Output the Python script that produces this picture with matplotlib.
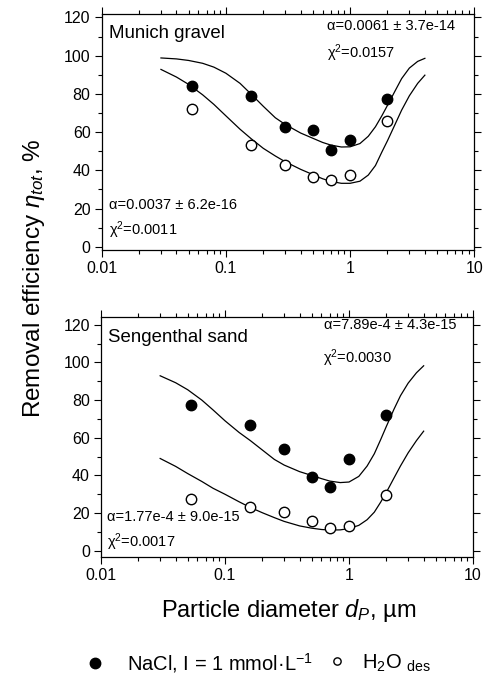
import numpy as np
import matplotlib
matplotlib.use("Agg")
import matplotlib.pyplot as plt
from matplotlib.ticker import MultipleLocator, LogLocator, NullFormatter, FixedLocator, FixedFormatter

plt.rcParams["font.family"] = ["Liberation Sans", "DejaVu Sans"]
plt.rcParams["mathtext.fontset"] = "custom"
plt.rcParams["mathtext.rm"] = "Liberation Sans"
plt.rcParams["mathtext.it"] = "Liberation Sans:italic"
plt.rcParams["mathtext.bf"] = "Liberation Sans:bold"

# measured particle diameters (um)
dp = [0.053, 0.16, 0.3, 0.5, 0.7, 1.0, 2.0]

# Munich gravel
munich_nacl = [84.0, 78.7, 62.5, 61.0, 50.8, 55.8, 77.3]
munich_h2o = [72.0, 53.0, 43.0, 36.5, 35.0, 37.5, 65.6]

# Sengenthal sand
seng_nacl = [77.5, 66.8, 54.1, 39.3, 34.0, 48.7, 72.1]
seng_h2o = [27.3, 23.4, 20.7, 16.0, 11.9, 13.1, 29.6]

# fitted model curves
fit_dp = [0.03, 0.04, 0.05, 0.065, 0.08, 0.1, 0.13, 0.16, 0.2, 0.25, 0.3, 0.4, 0.5,
          0.6, 0.7, 0.85, 1.0, 1.2, 1.4, 1.6, 1.8, 2.0, 2.3, 2.6, 3.0, 3.5, 4.0]
munich_nacl_fit = [98.8, 98.3, 97.5, 96.0, 94.0, 90.8, 85.5, 79.8, 73.5, 67.5, 64.0, 59.5, 56.8,
                   54.6, 53.2, 52.2, 52.3, 54.0, 57.8, 62.8, 68.5, 74.0, 81.5, 88.0, 93.5, 97.0, 98.6]
munich_h2o_fit = [92.8, 88.8, 85.0, 79.5, 74.5, 68.5, 61.5, 56.5, 51.5, 47.5, 44.5, 40.5, 37.8,
                  35.6, 34.2, 33.2, 33.2, 34.3, 37.5, 42.5, 49.5, 55.5, 64.0, 71.5, 79.0, 85.5, 89.8]
seng_nacl_fit = [92.9, 89.2, 85.5, 80.0, 74.8, 69.0, 62.8, 58.5, 53.5, 48.5, 45.5, 42.0, 40.0,
                 38.3, 37.0, 36.2, 36.5, 39.5, 45.0, 51.5, 59.0, 66.0, 75.0, 82.3, 89.0, 94.5, 98.2]
seng_h2o_fit = [49.0, 44.8, 41.0, 36.8, 33.2, 30.0, 26.0, 23.0, 20.2, 17.6, 15.6, 13.2, 12.0,
                11.3, 11.0, 11.1, 11.8, 13.5, 16.5, 20.5, 25.8, 31.0, 38.5, 45.0, 52.0, 58.5, 63.5]

W, H = 484, 675
fig = plt.figure(figsize=(W / 100, H / 100), dpi=100)

ax1 = fig.add_axes([101.7 / W, 1 - 250 / H, 372.6 / W, 236 / H])
ax2 = fig.add_axes([101 / W, 1 - 557 / H, 372 / W, 240 / H])


def style_axis(ax, ylim):
    ax.set_xscale("log")
    ax.set_xlim(0.01, 10)
    ax.set_ylim(*ylim)
    ax.yaxis.set_major_locator(FixedLocator([0, 20, 40, 60, 80, 100, 120]))
    ax.yaxis.set_minor_locator(MultipleLocator(10))
    ax.xaxis.set_major_locator(FixedLocator([0.01, 0.1, 1, 10]))
    ax.xaxis.set_major_formatter(FixedFormatter(["0.01", "0.1", "1", "10"]))
    ax.xaxis.set_minor_locator(LogLocator(base=10, subs=np.arange(2, 10)))
    ax.xaxis.set_minor_formatter(NullFormatter())
    ax.tick_params(which="both", direction="out", labelsize=11.5, width=0.8, pad=3)
    ax.tick_params(which="major", length=5)
    ax.tick_params(which="minor", length=3)
    ax.tick_params(axis="x", which="both", top=True)
    ax.tick_params(axis="y", which="both", right=True)
    for s in ax.spines.values():
        s.set_linewidth(0.9)


def draw(ax, nacl, h2o, f1, f2):
    ax.plot(fit_dp, f1, color="black", lw=0.9)
    ax.plot(fit_dp, f2, color="black", lw=0.9)
    a = ax.plot(dp, nacl, "o", color="black", ms=7.5, zorder=3)[0]
    b = ax.plot(dp, h2o, "o", mfc="white", mec="black", mew=1.0, ms=7.5, zorder=3)[0]
    return a, b


style_axis(ax1, (-1.7, 121.8))
style_axis(ax2, (-3.3, 124.1))
h1, h2 = draw(ax1, munich_nacl, munich_h2o, munich_nacl_fit, munich_h2o_fit)
draw(ax2, seng_nacl, seng_h2o, seng_nacl_fit, seng_h2o_fit)


def ptext(x, y, s, size=10.5):
    fig.text(x / W, 1 - y / H, s, fontsize=size, va="center", ha="left")


ptext(109, 33, "Munich gravel", 13.4)
ptext(327, 26, "α=0.0061 ± 3.7e-14")
ptext(327, 53, "χ$^2$=0.0157")
ptext(109, 205, "α=0.0037 ± 6.2e-16")
ptext(109, 230, "χ$^2$=0.0011")

ptext(108, 338, "Sengenthal sand", 13.4)
ptext(324, 325, "α=7.89e-4 ± 4.3e-15")
ptext(323, 358, "χ$^2$=0.0030")
ptext(107, 517, "α=1.77e-4 ± 9.0e-15")
ptext(107, 542, "χ$^2$=0.0017")

fig.text(34 / W, 1 - 278 / H, r"Removal efficiency $\eta_{tot}$, %", rotation=90,
         fontsize=17.5, ha="center", va="center")
fig.text(289 / W, 1 - 610 / H, r"Particle diameter $d_P$, µm",
         fontsize=17, ha="center", va="center")

leg_y = 1 - 663 / H
fig.legend([h1], [r"NaCl, I = 1 mmol·L$^{-1}$"], loc="center left",
           bbox_to_anchor=(85 / W, leg_y), frameon=False, fontsize=14.5,
           borderpad=0, borderaxespad=0, handlelength=1, handletextpad=1.1)
fig.legend([h2], [r"H$_2$O $_{\mathrm{des}}$"], loc="center left",
           bbox_to_anchor=(327 / W, leg_y), frameon=False, fontsize=14.5,
           borderpad=0, borderaxespad=0, handlelength=1, handletextpad=0.75,
           markerscale=0.7)

fig.savefig("out.png", dpi=100)
